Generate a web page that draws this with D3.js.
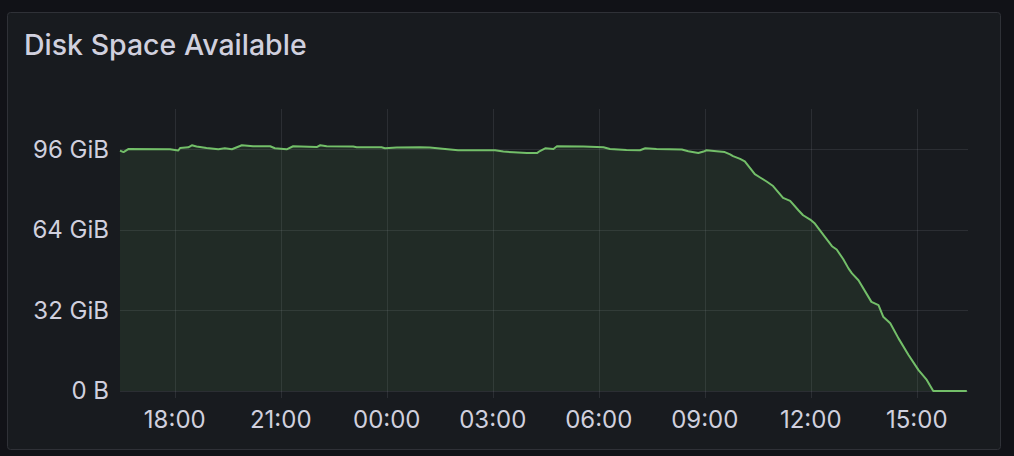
<!DOCTYPE html>
<html>
<head>
<meta charset="utf-8">
<script src="https://cdn.jsdelivr.net/npm/d3@7"></script>
<style>
  html, body { margin: 0; padding: 0; background: #111217; }
  svg { display: block; }
</style>
</head>
<body>
<svg id="chart" width="1014" height="456"></svg>
<script>
const width = 1014;
const height = 456;

// Chart data (free space in GiB)
const times = [
  "2024-05-14 16:27", "2024-05-14 16:33", "2024-05-14 16:41", "2024-05-14 17:52",
  "2024-05-14 18:06", "2024-05-14 18:09", "2024-05-14 18:23", "2024-05-14 18:29",
  "2024-05-14 18:37", "2024-05-14 18:54", "2024-05-14 19:14", "2024-05-14 19:25",
  "2024-05-14 19:37", "2024-05-14 19:54", "2024-05-14 20:13", "2024-05-14 20:42",
  "2024-05-14 20:50", "2024-05-14 21:10", "2024-05-14 21:21", "2024-05-14 22:01",
  "2024-05-14 22:07", "2024-05-14 22:18", "2024-05-14 23:03", "2024-05-14 23:09",
  "2024-05-14 23:51", "2024-05-14 23:57", "2024-05-15 00:17", "2024-05-15 00:56",
  "2024-05-15 01:13", "2024-05-15 01:39", "2024-05-15 02:01", "2024-05-15 03:04",
  "2024-05-15 03:18", "2024-05-15 03:35", "2024-05-15 03:58", "2024-05-15 04:15",
  "2024-05-15 04:20", "2024-05-15 04:29", "2024-05-15 04:43", "2024-05-15 04:49",
  "2024-05-15 05:34", "2024-05-15 06:08", "2024-05-15 06:19", "2024-05-15 06:47",
  "2024-05-15 07:10", "2024-05-15 07:19", "2024-05-15 07:38", "2024-05-15 08:21",
  "2024-05-15 08:32", "2024-05-15 08:49", "2024-05-15 08:58", "2024-05-15 09:03",
  "2024-05-15 09:20", "2024-05-15 09:34", "2024-05-15 09:43", "2024-05-15 09:48",
  "2024-05-15 10:00", "2024-05-15 10:08", "2024-05-15 10:25", "2024-05-15 10:34",
  "2024-05-15 10:45", "2024-05-15 10:56", "2024-05-15 11:13", "2024-05-15 11:25",
  "2024-05-15 11:39", "2024-05-15 11:47", "2024-05-15 11:59", "2024-05-15 12:07",
  "2024-05-15 12:24", "2024-05-15 12:36", "2024-05-15 12:44", "2024-05-15 12:55",
  "2024-05-15 13:04", "2024-05-15 13:10", "2024-05-15 13:21", "2024-05-15 13:43",
  "2024-05-15 13:55", "2024-05-15 14:03", "2024-05-15 14:15", "2024-05-15 14:29",
  "2024-05-15 14:46", "2024-05-15 15:03", "2024-05-15 15:17", "2024-05-15 15:28",
  "2024-05-15 16:25"
];
const freeGiB = [
  95.5, 94.9, 96.1, 96.0,
  95.5, 96.5, 96.8, 97.6,
  97.1, 96.5, 96.0, 96.4,
  96.0, 97.6, 97.2, 97.2,
  96.4, 96.0, 97.2, 96.9,
  97.6, 97.2, 97.1, 96.8,
  96.8, 96.4, 96.7, 96.8,
  96.7, 96.1, 95.6, 95.6,
  95.1, 94.8, 94.5, 94.5,
  95.3, 96.4, 96.1, 97.2,
  97.1, 96.8, 96.1, 95.7,
  95.6, 96.4, 96.1, 95.9,
  95.2, 94.5, 95.1, 95.6,
  95.2, 94.9, 94.0, 93.3,
  92.2, 91.2, 86.1, 84.8,
  83.2, 81.4, 76.7, 75.5,
  71.8, 69.8, 68.1, 66.5,
  61.2, 57.5, 56.2, 52.4,
  48.7, 46.7, 44.0, 35.4,
  34.1, 29.5, 26.9, 20.9,
  14.3, 8.3, 4.4, 0,
  0
];
const timeRange = ["2024-05-14 16:27", "2024-05-15 16:27"];
const yTickValues = [0, 32, 64, 96];
const yMax = 112;
const title = "Disk Space Available";

const parse = d3.timeParse("%Y-%m-%d %H:%M");
const data = times.map((t, i) => ({ t: parse(t), v: freeGiB[i] }));

const textColor = "#d0d0de";
const gridColor = "rgba(204,204,220,0.11)";
const lineColor = "#73bf69";
const font = "Inter, 'Noto Sans', sans-serif";

const plot = { left: 120, right: 968, top: 109, bottom: 391 };

const x = d3.scaleTime()
  .domain(timeRange.map(parse))
  .range([plot.left, plot.right]);
const y = d3.scaleLinear()
  .domain([0, yMax])
  .range([plot.bottom, plot.top]);

const svg = d3.select("#chart");

// panel
svg.append("rect")
  .attr("x", 7.5).attr("y", 12.5)
  .attr("width", 993).attr("height", 437)
  .attr("rx", 3)
  .attr("fill", "#181b1f")
  .attr("stroke", "#2f3137");

svg.append("text")
  .attr("x", 24).attr("y", 55)
  .attr("fill", textColor)
  .attr("font-family", font)
  .attr("font-size", 28.5)
  .attr("font-weight", 500)
  .text(title);

// grid
const xTicks = x.ticks(d3.timeHour.every(3));
svg.append("g")
  .selectAll("line")
  .data(xTicks)
  .join("line")
  .attr("x1", d => Math.round(x(d)) + 0.5)
  .attr("x2", d => Math.round(x(d)) + 0.5)
  .attr("y1", plot.top).attr("y2", plot.bottom + 7)
  .attr("stroke", gridColor);

svg.append("g")
  .selectAll("line")
  .data(yTickValues)
  .join("line")
  .attr("x1", plot.left).attr("x2", plot.right)
  .attr("y1", d => Math.round(y(d)) + 0.5)
  .attr("y2", d => Math.round(y(d)) + 0.5)
  .attr("stroke", gridColor);

// series
const area = d3.area()
  .x(d => x(d.t))
  .y0(y(0))
  .y1(d => y(d.v));
const line = d3.line()
  .x(d => x(d.t))
  .y(d => y(d.v));

svg.append("path")
  .datum(data)
  .attr("d", area)
  .attr("fill", lineColor)
  .attr("fill-opacity", 0.1);

svg.append("path")
  .datum(data)
  .attr("d", line)
  .attr("fill", "none")
  .attr("stroke", lineColor)
  .attr("stroke-width", 2)
  .attr("stroke-linejoin", "round");

// axis labels
const fmtBytes = d => d === 0 ? "0 B" : d + " GiB";
svg.append("g")
  .selectAll("text")
  .data(yTickValues)
  .join("text")
  .attr("x", 109)
  .attr("y", d => y(d))
  .attr("dy", "0.35em")
  .attr("text-anchor", "end")
  .attr("fill", textColor)
  .attr("font-family", font)
  .attr("font-size", 24)
  .text(fmtBytes);

const fmtTime = d3.timeFormat("%H:%M");
svg.append("g")
  .selectAll("text")
  .data(xTicks)
  .join("text")
  .attr("x", d => x(d))
  .attr("y", 428)
  .attr("text-anchor", "middle")
  .attr("fill", textColor)
  .attr("font-family", font)
  .attr("font-size", 24)
  .text(fmtTime);
</script>
</body>
</html>
